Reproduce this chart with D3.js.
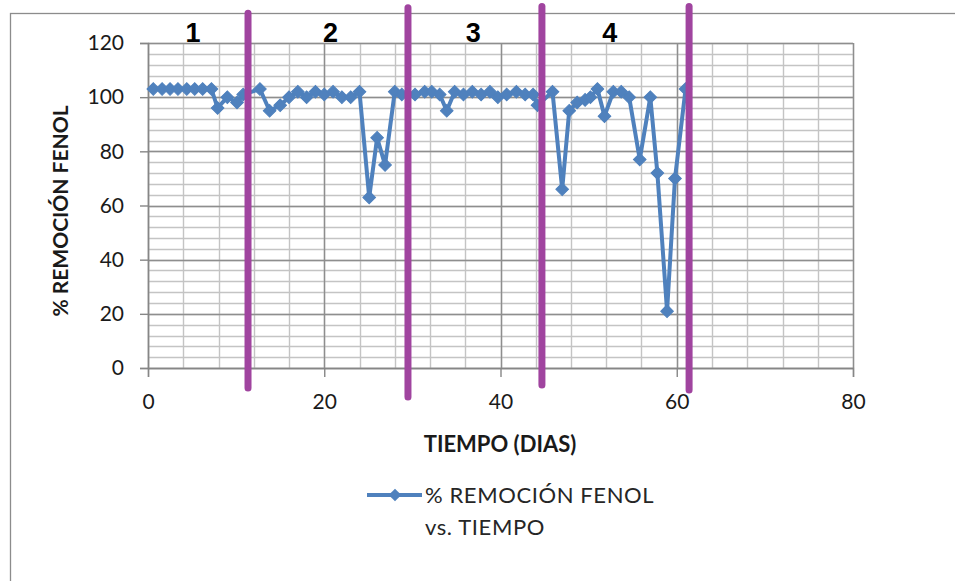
<!DOCTYPE html>
<html>
<head>
<meta charset="utf-8">
<script src="https://cdn.jsdelivr.net/npm/d3@7"></script>
<style>
  body { margin: 0; background: #fff; }
  svg { display: block; font-family: Lato, "Liberation Sans", sans-serif; }
</style>
</head>
<body>
<div id="svg-container"></div>
<script>
// day (x) and % phenol removal (y)
const dias = [
  0.6, 1.6, 2.5, 3.4, 4.4, 5.3, 6.2, 7.2, 7.9, 9.0, 10.1, 10.8,
  12.7, 13.8, 15.0, 16.0, 17.0, 18.0, 19.0, 20.0, 21.0, 22.0, 23.0, 24.0,
  25.1, 26.0, 26.9, 28.0, 28.8,
  30.3, 31.4, 32.2, 33.1, 33.9, 34.8, 35.8, 36.8, 37.8, 38.8, 39.7, 40.7,
  41.8, 42.8, 43.7, 44.2,
  45.9, 47.0, 47.8, 48.7, 49.6, 50.2, 51.0, 51.8, 52.8, 53.7, 54.6, 55.8,
  57.0, 57.8, 58.9, 59.8, 61.0
];
const remocion = [
  103, 103, 103, 103, 103, 103, 103, 103, 96, 100, 98, 101,
  103, 95, 97, 100, 102, 100, 102, 101, 102, 100, 100, 102,
  63, 85, 75, 102, 101,
  101, 102, 102, 101, 95, 102, 101, 102, 101, 102, 100, 101,
  102, 101, 101, 97,
  102, 66, 95, 98, 99, 100, 103, 93, 102, 102, 100, 77,
  100, 72, 21, 70, 103
];

// stage dividers (purple bars) and stage labels
const divisorX = [11.35, 29.5, 44.7, 61.4];
const divisorTop = [131, 133, 133.5, 133.5];
const divisorBottom = [-7.4, -10.7, -6.3, -8.1];
const etapas = ["1", "2", "3", "4"];
const etapaX = [5.1, 20.7, 36.9, 52.4];

const xTicks = [0, 20, 40, 60, 80];
const yTicks = [0, 20, 40, 60, 80, 100, 120];

const svgWidth = 955;
const svgHeight = 581;

const svg = d3
  .select("#svg-container")
  .append("svg")
  .attr("width", svgWidth)
  .attr("height", svgHeight);

// chart frame
svg
  .append("rect")
  .attr("x", 10.5)
  .attr("y", 13.5)
  .attr("width", 1000)
  .attr("height", 700)
  .attr("fill", "#fff")
  .attr("stroke", "#8c8c8c")
  .attr("stroke-width", 1.3);

const xScale = d3.scaleLinear().domain([0, 80]).range([148, 853]);
const yScale = d3.scaleLinear().domain([0, 120]).range([368, 43]);

// minor grid
const grid = svg.append("g");
grid
  .selectAll("line.hmin")
  .data(d3.range(0, 121, 4))
  .enter()
  .append("line")
  .attr("x1", xScale(0))
  .attr("x2", xScale(80))
  .attr("y1", (d) => Math.round(yScale(d)) + 0.5)
  .attr("y2", (d) => Math.round(yScale(d)) + 0.5)
  .attr("stroke", "#c4c4c4")
  .attr("stroke-width", 1.4);
grid
  .selectAll("line.vmin")
  .data(d3.range(0, 81, 4))
  .enter()
  .append("line")
  .attr("y1", yScale(0))
  .attr("y2", yScale(120))
  .attr("x1", (d) => Math.round(xScale(d)) + 0.5)
  .attr("x2", (d) => Math.round(xScale(d)) + 0.5)
  .attr("stroke", "#c4c4c4")
  .attr("stroke-width", 1.4);

// major grid
grid
  .selectAll("line.hmaj")
  .data(yTicks)
  .enter()
  .append("line")
  .attr("x1", xScale(0))
  .attr("x2", xScale(80))
  .attr("y1", (d) => Math.round(yScale(d)) + 0.5)
  .attr("y2", (d) => Math.round(yScale(d)) + 0.5)
  .attr("stroke", "#8e8e8e")
  .attr("stroke-width", 1.4);
grid
  .selectAll("line.vmaj")
  .data(xTicks)
  .enter()
  .append("line")
  .attr("y1", yScale(0))
  .attr("y2", yScale(120))
  .attr("x1", (d) => Math.round(xScale(d)) + 0.5)
  .attr("x2", (d) => Math.round(xScale(d)) + 0.5)
  .attr("stroke", "#8e8e8e")
  .attr("stroke-width", 1.4);

// axes
const yAxis = d3
  .axisLeft(yScale)
  .tickValues(yTicks)
  .tickSize(8)
  .tickPadding(16);
const xAxis = d3
  .axisBottom(xScale)
  .tickValues(xTicks)
  .tickSize(9)
  .tickPadding(17);

const gy = svg
  .append("g")
  .attr("transform", `translate(${xScale(0)}, 0)`)
  .call(yAxis);
const gx = svg
  .append("g")
  .attr("transform", `translate(0, ${yScale(0)})`)
  .call(xAxis);

[gx, gy].forEach((g) => {
  g.select(".domain").attr("stroke", "#868686").attr("stroke-width", 1.4);
  g.selectAll(".tick line").attr("stroke", "#868686").attr("stroke-width", 1.4);
  g.selectAll(".tick text")
    .attr("fill", "#1a1a1a")
    .style("font-family", "Lato, sans-serif")
    .style("font-size", "21px");
});

// series
const puntos = dias.map((d, i) => [d, remocion[i]]);
const linea = d3
  .line()
  .x((d) => xScale(d[0]))
  .y((d) => yScale(d[1]));

svg
  .append("path")
  .datum(puntos)
  .attr("d", linea)
  .attr("fill", "none")
  .attr("stroke", "#4f81bd")
  .attr("stroke-width", 4)
  .attr("stroke-linejoin", "round");

const diamante = d3.symbol().type(d3.symbolSquare).size(80);
svg
  .selectAll("path.punto")
  .data(puntos)
  .enter()
  .append("path")
  .attr("class", "punto")
  .attr("d", diamante)
  .attr("transform", (d) => `translate(${xScale(d[0])}, ${yScale(d[1])}) rotate(45)`)
  .attr("fill", "#4f81bd")
  .attr("stroke", "#4f81bd")
  .attr("stroke-width", 1);

// purple stage dividers
svg
  .selectAll("line.divisor")
  .data(divisorX)
  .enter()
  .append("line")
  .attr("x1", (d) => xScale(d))
  .attr("x2", (d) => xScale(d))
  .attr("y1", (d, i) => yScale(divisorTop[i]))
  .attr("y2", (d, i) => yScale(divisorBottom[i]))
  .attr("stroke", "#a0449f")
  .attr("stroke-width", 7)
  .attr("stroke-linecap", "round");

svg
  .selectAll("text.etapa")
  .data(etapas)
  .enter()
  .append("text")
  .attr("x", (d, i) => xScale(etapaX[i]))
  .attr("y", yScale(120) - 1)
  .attr("text-anchor", "middle")
  .style("font-family", "'Liberation Sans', Arial, sans-serif")
  .style("font-weight", "bold")
  .style("font-size", "27px")
  .attr("fill", "#000")
  .text((d) => d);

// axis titles
svg
  .append("text")
  .attr("x", 500)
  .attr("y", 452)
  .attr("text-anchor", "middle")
  .style("font-weight", "bold")
  .style("font-size", "22px")
  .attr("fill", "#1a1a1a")
  .text("TIEMPO (DIAS)");

svg
  .append("text")
  .attr("transform", "translate(68, 211) rotate(-90)")
  .attr("text-anchor", "middle")
  .style("font-weight", "bold")
  .style("font-size", "21px")
  .attr("fill", "#1a1a1a")
  .text("% REMOCIÓN FENOL");

// legend
const leg = svg.append("g").attr("transform", "translate(367, 495)");
leg
  .append("line")
  .attr("x1", 0)
  .attr("x2", 55)
  .attr("stroke", "#4f81bd")
  .attr("stroke-width", 4);
leg
  .append("path")
  .attr("d", diamante)
  .attr("transform", "translate(28, 0) rotate(45)")
  .attr("fill", "#4f81bd");
leg
  .append("text")
  .attr("x", 58)
  .attr("y", 8)
  .style("font-size", "22px")
  .style("letter-spacing", "0.6px")
  .attr("fill", "#262626")
  .text("% REMOCIÓN FENOL");
leg
  .append("text")
  .attr("x", 58)
  .attr("y", 40)
  .style("font-size", "22px")
  .style("letter-spacing", "0.6px")
  .attr("fill", "#262626")
  .text("vs. TIEMPO");
</script>
</body>
</html>
